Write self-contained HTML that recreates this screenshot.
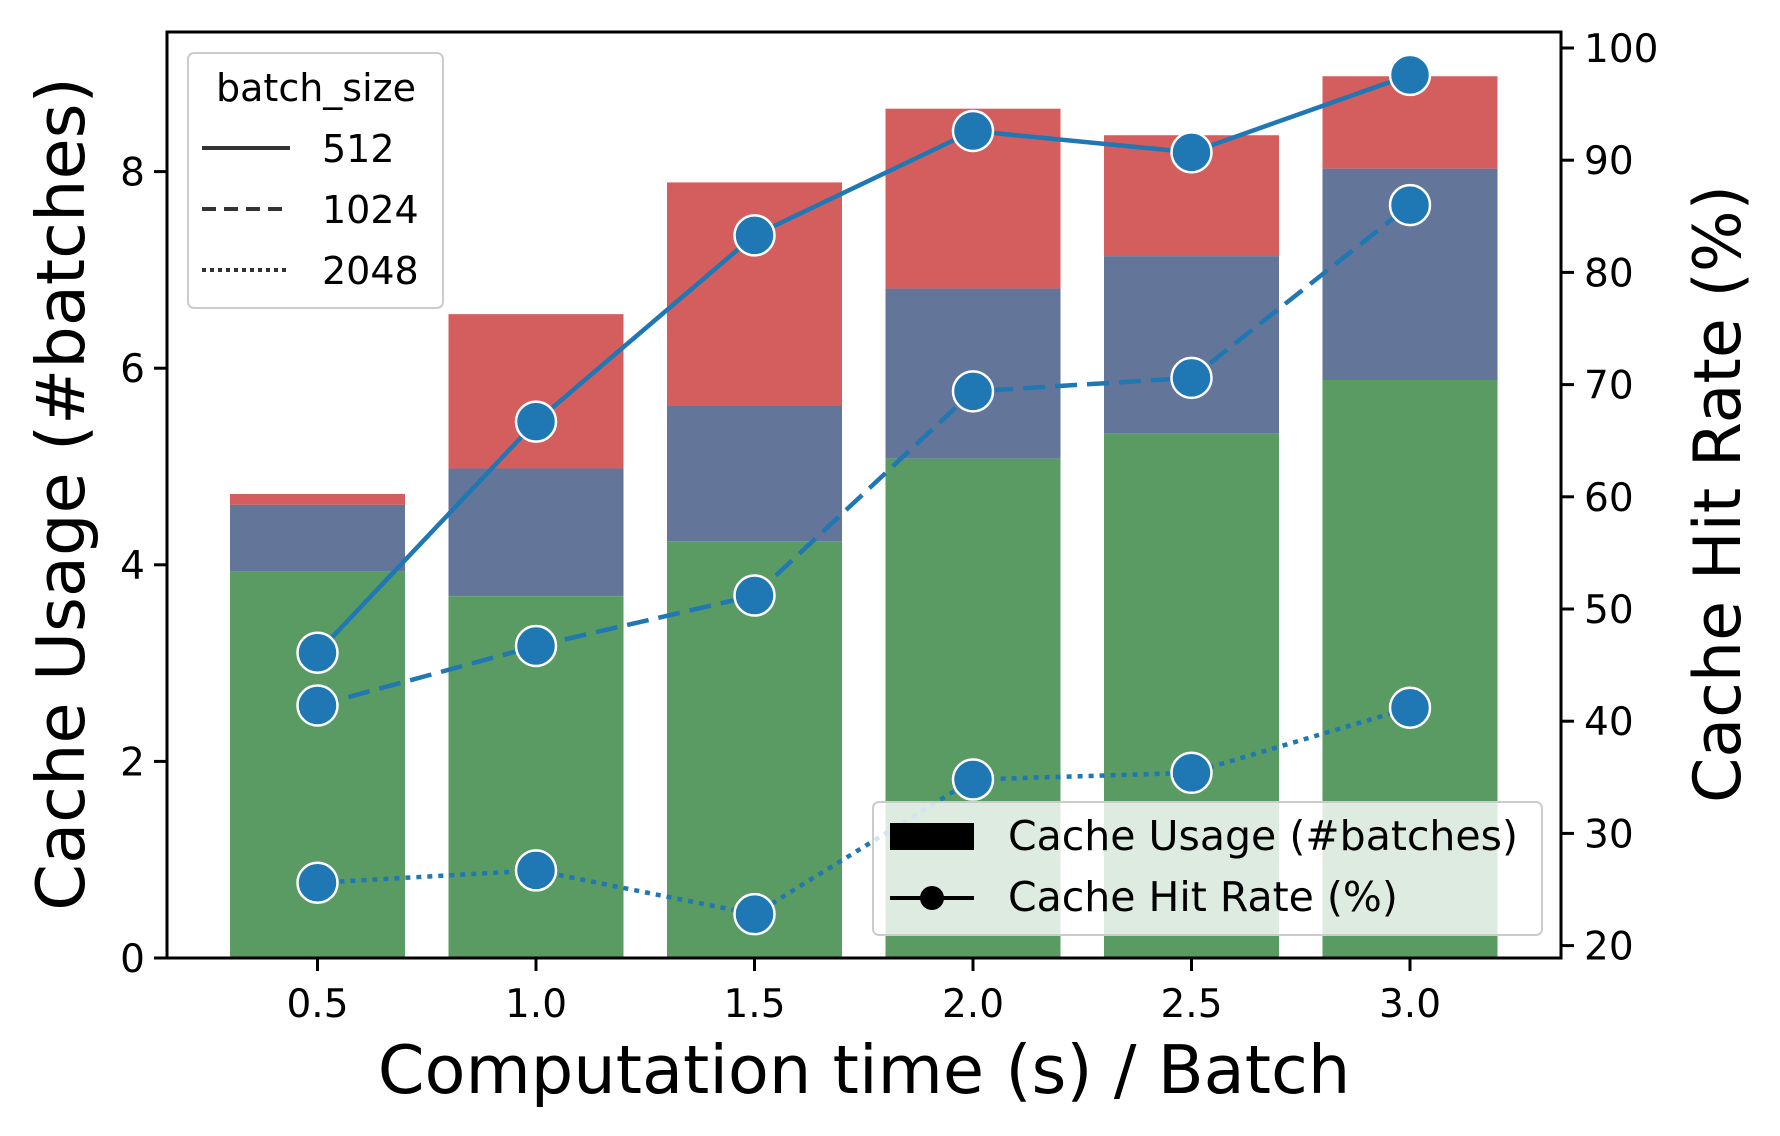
<!DOCTYPE html>
<html><head><meta charset="utf-8"><style>
body{margin:0;background:#fff}
svg{display:block;font-family:"DejaVu Sans","Liberation Sans",sans-serif}
</style></head><body>
<svg id="chart" width="1780" height="1136" viewBox="0 0 1780 1136"></svg>
<script>
const categories=[0.5,1.0,1.5,2.0,2.5,3.0];
const greenVals=[3.93,3.68,4.24,5.08,5.34,5.88];
const blueTops=[4.61,4.98,5.62,6.81,7.14,8.03];
const redTops=[4.72,6.55,7.89,8.64,8.37,8.97];
const hit512=[46.1,66.7,83.3,92.6,90.7,97.6];
const hit1024=[41.4,46.7,51.2,69.4,70.6,86.0];
const hit2048=[25.6,26.7,22.8,34.8,35.4,41.2];
const leftTicks=[0,2,4,6,8];
const rightTicks=[20,30,40,50,60,70,80,90,100];
const xTickLabels=["0.5","1.0","1.5","2.0","2.5","3.0"];

const L=167,R=1561,T=32,B=958;
const xs=i=>317.5+i*218.5;
const yl=v=>958-v*98.3;
const yr=p=>945.6-(p-20)*11.22;
const bw=175;
const svg=document.getElementById('chart');
const NS='http://www.w3.org/2000/svg';
function mk(tag,attrs,parent){const e=document.createElementNS(NS,tag);for(const k in attrs)e.setAttribute(k,attrs[k]);(parent||svg).appendChild(e);return e;}

const bars=mk('g',{});


categories.forEach((c,i)=>{
  const x=xs(i)-bw/2;
  let r=mk('rect',{x:x,y:yl(redTops[i]),width:bw,height:yl(blueTops[i])-yl(redTops[i]),fill:'#d45e5e'},bars);
  
  
  let b=mk('rect',{x:x,y:yl(blueTops[i]),width:bw,height:yl(greenVals[i])-yl(blueTops[i]),fill:'#637599'},bars);
  
  
  let g=mk('rect',{x:x,y:yl(greenVals[i]),width:bw,height:yl(0)-yl(greenVals[i]),fill:'#5a9a63'},bars);
  
  
});

const series=[[hit512,''],[hit1024,'22,10'],[hit2048,'5,6']];
const names=['512','1024','2048'];
series.forEach(([d,dash],si)=>{
  const pts=d.map((v,i)=>xs(i)+','+yr(v)).join(' ');
  const pl=mk('polyline',{points:pts,fill:'none',stroke:'#1f77b4','stroke-width':4.5,'stroke-dasharray':dash});
  
  
});
series.forEach(([d],si)=>{
  d.forEach((v,i)=>{
    const c=mk('circle',{cx:xs(i),cy:yr(v),r:20,fill:'#1f77b4',stroke:'#fff','stroke-width':2.5});
    
    
  });
});

const fr=mk('rect',{x:L,y:T,width:R-L,height:B-T,fill:'none',stroke:'#000','stroke-width':3});



leftTicks.forEach(t=>{
  mk('line',{x1:L-13,x2:L,y1:yl(t),y2:yl(t),stroke:'#000','stroke-width':3});
  const tx=mk('text',{x:L-22,y:yl(t)+14,'text-anchor':'end','font-size':39});tx.textContent=t;
  
  
});
rightTicks.forEach(t=>{
  mk('line',{x1:R,x2:R+13,y1:yr(t),y2:yr(t),stroke:'#000','stroke-width':3});
  const tx=mk('text',{x:R+23,y:yr(t)+14,'font-size':39});tx.textContent=t;
  
  
});
xTickLabels.forEach((t,i)=>{
  mk('line',{x1:xs(i),x2:xs(i),y1:B,y2:B+13,stroke:'#000','stroke-width':3});
  const tx=mk('text',{x:xs(i),y:1017,'text-anchor':'middle','font-size':39});tx.textContent=t;
  
  
});

let t=mk('text',{x:864,y:1093,'text-anchor':'middle','font-size':67});t.textContent='Computation time (s) / Batch';


t=mk('text',{x:0,y:0,'text-anchor':'middle','font-size':67,transform:'translate(84,494) rotate(-90)'});t.textContent='Cache Usage (#batches)';


t=mk('text',{x:0,y:0,'text-anchor':'middle','font-size':65,transform:'translate(1740,494) rotate(-90)'});t.textContent='Cache Hit Rate (%)';



const g1=mk('g',{});


mk('rect',{x:188,y:53,width:255,height:255,rx:6,fill:'#fff','fill-opacity':0.8,stroke:'#ccc','stroke-width':2},g1);
t=mk('text',{x:316,y:101,'text-anchor':'middle','font-size':38},g1);t.textContent='batch_size';
const rows=[['512',''],['1024','14,8'],['2048','4,4']];
rows.forEach((r,i)=>{
  const y=148+i*61;
  mk('line',{x1:202,x2:290,y1:y,y2:y,stroke:'#333','stroke-width':4,'stroke-dasharray':r[1]},g1);
  const tx=mk('text',{x:322,y:y+14,'font-size':38},g1);tx.textContent=r[0];
  
  
});

const g2=mk('g',{});


mk('rect',{x:873,y:802,width:669,height:133,rx:6,fill:'#fff','fill-opacity':0.8,stroke:'#ccc','stroke-width':2},g2);
mk('rect',{x:890,y:823,width:84,height:27,fill:'#000'},g2);
t=mk('text',{x:1008,y:850,'font-size':41},g2);t.textContent='Cache Usage (#batches)';


mk('line',{x1:890,x2:974,y1:898,y2:898,stroke:'#000','stroke-width':4},g2);
mk('circle',{cx:932,cy:898,r:12,fill:'#000'},g2);
t=mk('text',{x:1008,y:911,'font-size':41},g2);t.textContent='Cache Hit Rate (%)';


</script>
</body></html>
